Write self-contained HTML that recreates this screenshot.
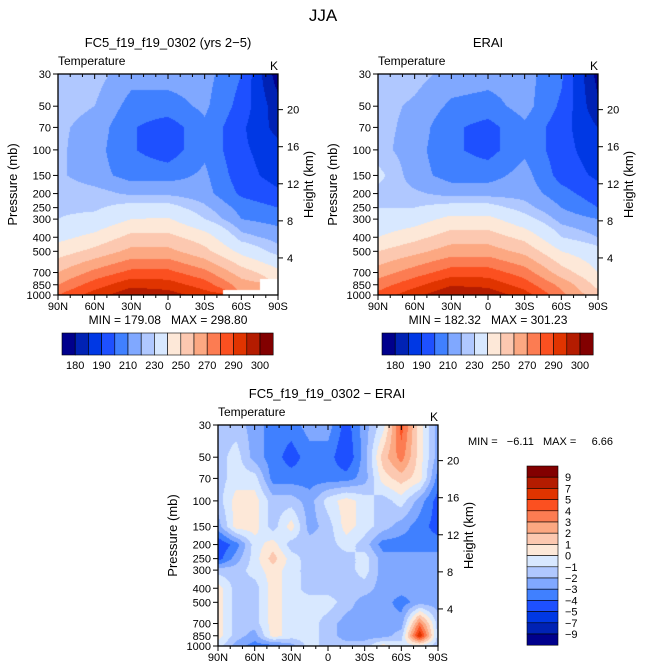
<!DOCTYPE html>
<html><head><meta charset="utf-8">
<style>
body{margin:0;background:#fff;width:647px;height:670px;overflow:hidden;position:relative;font-family:"Liberation Sans",sans-serif;}
canvas{position:absolute;}
svg{position:absolute;left:0;top:0;}
svg text{white-space:pre;}
</style></head>
<body>
<canvas id="c1" width="220" height="221" style="left:58px;top:74px"></canvas>
<canvas id="c2" width="220" height="221" style="left:378px;top:74px"></canvas>
<canvas id="c3" width="220" height="221" style="left:218px;top:425px"></canvas>
<svg id="s" width="647" height="670"></svg>
<script>
const colors=["#00008c","#0022b4","#0038e4","#1e50ff","#4080ff","#80a8ff","#b0c8ff","#d8e8ff","#fde8d8","#fcc8b0","#fca882","#fc7c52","#fb5020","#e03400","#b41c00","#820000"];
const pLevels=[30,50,70,100,150,200,250,300,400,500,700,850,1000];
const lats7=[90,60,30,0,-30,-60,-90];
const lats13=[90,75,60,45,30,15,0,-15,-30,-45,-60,-75,-90];
const tThr=[185,190,195,200,205,210,215,225,235,245,255,265,275,285,295];
const dThr=[-9,-7,-5,-4,-3,-2,-1,0,1,2,3,4,5,7,9];
const tBarLabels=["180","190","210","230","250","270","290","300"];
const dBarLabels=["9","7","5","4","3","2","1","0","\u22121","\u22122","\u22123","\u22124","\u22125","\u22127","\u22129"];
const pTicks=[30,50,70,100,150,200,250,300,400,500,700,850,1000];
const zTicks=[4,8,12,16,20];
const latLabels=["90N","60N","30N","0","30S","60S","90S"];
const model=[
[212,212,207,207,207,200,182],
[212,210,203,203,206,198,187],
[211,208,200.5,197,204,196,188],
[211,207,200.5,197,204,196,192],
[211,207,203,203,206,197,193],
[213,212,209,209,207,199,196],
[214,214,218,218,211,203,200],
[215,217,225,226,215,205,203],
[222,228,238,238,230,212,208],
[230,238,248,248,238,222,212],
[245,258,268,268,258,240,228],
[255,270,282,280,270,250,null],
[265,280,293,290,280,null,null]];
const erai=[
[214,212,208,207,207,201,183],
[212,209,204,203,207,199,186],
[212,208,201,198,204,197,190],
[212,207,201,198,204,197,192],
[217,207,203,203,207,198,194],
[213,211,208,208,208,202,197],
[215,215,218,218,212,205,200],
[217,220,228,228,218,208,205],
[225,232,240,240,232,215,210],
[235,242,250,250,242,225,218],
[250,260,270,270,260,240,225],
[260,272,284,282,270,252,232],
[268,282,294,292,280,258,238]];
const diff=[
[-1.5,-1.5,-2.5,-3.5,-3.5,-2.5,-2.5,-4.5,-2.5,-0.5,4.5,0.5,-2.5],
[-1.5,-0.5,-2.5,-3.5,-4.5,-3.5,-3.5,-5,-2.5,1.5,3.5,0.5,-2.5],
[-1.5,-0.5,-0.5,-3.5,-3.5,-3.5,-3.5,-3.5,-2.5,0.5,1.5,0.5,-3.5],
[-1.5,0.5,0.5,-1.5,-1.5,-2.5,-0.5,0.5,-0.5,-1.5,-0.5,-2.5,-4.5],
[-2.5,0.5,0.5,-1.5,0.5,-2.5,-1.5,0.5,-0.5,-1.5,-2.5,-3.5,-4.5],
[-5,-3.5,-0.5,0.5,-1.5,-1.5,-1.5,-0.5,-1.5,-3.5,-3.5,-3.5,-3.5],
[-4.5,-2.5,-0.5,1.5,-0.5,-1.5,-1.5,-1.5,-0.5,-2.5,-2.5,-2.5,-2.5],
[-1.5,-1.5,-0.5,0.5,-0.5,-1.5,-1.5,-1.5,-0.5,-2.5,-2.5,-2.5,-2.5],
[0.5,-1.5,-1.5,0.5,-0.5,-1.5,-1.5,-1.5,-1.5,-2.5,-2.5,-2.5,-2.5],
[0.5,-1.5,-1.5,0.5,-0.5,-0.5,-0.5,-1.5,-2.5,-2.5,-3.5,-2.5,-2.5],
[0.5,-1.5,-1.5,0.5,-0.5,-0.5,-1.5,-2.5,-2.5,-2.5,-2.5,3.5,-1.5],
[0.5,-1.5,-2.5,0.5,-0.5,-0.5,-1.5,-2.5,-2.5,-2.5,-1.5,6,-1.5],
[-0.5,-2.5,-3.5,-3.5,-2.5,-0.5,-1.5,-1.5,-1.5,0.5,-0.5,-0.5,-1.5]];

const W=220,H=221;
function yOfP(p){return Math.log(p/30)/Math.log(1000/30)*H;}
function xOfLat(l){return (90-l)/180*W;}
function idx(v,thr){let i=0;while(i<thr.length&&v>=thr[i])i++;return i;}
function fill(id,grid,lats,thr){
  const ctx=document.getElementById(id).getContext('2d');
  const ys=pLevels.map(yOfP), xs=lats.map(xOfLat);
  for(let py=0;py<H;py++){
    let r=0;while(r<ys.length-2&&py+0.5>ys[r+1])r++;
    const fy=Math.min(1,Math.max(0,(py+0.5-ys[r])/(ys[r+1]-ys[r])));
    for(let px=0;px<W;px++){
      let c=0;while(c<xs.length-2&&px+0.5>xs[c+1])c++;
      const fx=Math.min(1,Math.max(0,(px+0.5-xs[c])/(xs[c+1]-xs[c])));
      const a=grid[r][c],b=grid[r][c+1],d=grid[r+1][c],e=grid[r+1][c+1];
      const near=grid[fy<0.5?r:r+1][fx<0.5?c:c+1];
      if(near===null)continue;
      const vals=[[a,(1-fx)*(1-fy)],[b,fx*(1-fy)],[d,(1-fx)*fy],[e,fx*fy]];
      let s=0,w=0;vals.forEach(([v,wt])=>{if(v!==null){s+=v*wt;w+=wt;}});
      ctx.fillStyle=colors[idx(s/w,thr)];
      ctx.fillRect(px,py,1,1);
    }
  }
}
fill('c1',model,lats7,tThr);
fill('c2',erai,lats7,tThr);
fill('c3',diff,lats13,dThr);

const svg=document.getElementById('s');
const NS="http://www.w3.org/2000/svg";
function mk(tag,attrs,name,parent){const e=document.createElementNS(NS,tag);for(const k in attrs)e.setAttribute(k,attrs[k]);


(parent||svg).appendChild(e);return e;}
function txt(x,y,s,size,anchor,name,rot){const t=mk('text',{x:x,y:y,'font-size':size,'text-anchor':anchor||'start',fill:'#000','font-family':'Liberation Sans, sans-serif'},name);if(rot)t.setAttribute('transform','rotate(-90 '+x+' '+y+')');t.textContent=s;return t;}

txt(323,21,"JJA",17,'middle','main-title');
function panel(x0,y0,title,tx,name,minmax){
  txt(tx,y0-27,title,13,'middle',name+'-title');
  txt(x0,y0-9,"Temperature",12,'start',name+'-variable-label');
  txt(x0+W,y0-4,"K",12,'end',name+'-units-label');
  mk('rect',{x:x0,y:y0,width:W,height:H,fill:'none',stroke:'#000','stroke-width':1.3},name+'-frame');
  pTicks.forEach(p=>{const y=y0+yOfP(p);
    mk('line',{x1:x0-5,x2:x0,y1:y,y2:y,stroke:'#000'},name+'-pressure-tick');
    txt(x0-7,y+4,String(p),11,'end',name+'-pressure-label');});
  zTicks.forEach(z=>{const p=1000*Math.exp(-z/6.8);const y=y0+yOfP(p);
    mk('line',{x1:x0+W,x2:x0+W+5,y1:y,y2:y,stroke:'#000'},name+'-height-tick');
    txt(x0+W+9,y+4,String(z),11,'start',name+'-height-label');});
  for(let l=90;l>=-90;l-=10){const x=x0+xOfLat(l);const major=l%30===0;
    mk('line',{x1:x,x2:x,y1:y0,y2:y0+(major?5:3),stroke:'#000'},name+'-top-tick');
    mk('line',{x1:x,x2:x,y1:y0+H,y2:y0+H+(major?5:3),stroke:'#000'},name+'-bottom-tick');}
  lats7.forEach((l,i)=>txt(x0+xOfLat(l),y0+H+15,latLabels[i],11,'middle',name+'-lat-label'));
  txt(x0-41,y0+H/2,"Pressure (mb)",13,'middle',name+'-y-axis-title',true);
  txt(x0+W+35,y0+H/2,"Height (km)",13,'middle',name+'-right-axis-title',true);
  if(minmax)txt(x0+W/2,y0+H+29,minmax,12,'middle',name+'-min-max');
}
panel(58,74,"FC5_f19_f19_0302 (yrs 2\u22125)",168,'model',"MIN = 179.08   MAX = 298.80");
panel(378,74,"ERAI",488,'erai',"MIN = 182.32   MAX = 301.23");
panel(218,425,"FC5_f19_f19_0302 \u2212 ERAI",327,'diff',null);
txt(468,445,"MIN =   \u22126.11   MAX =     6.66",11,'start','diff-min-max');

function hbar(x0,name){const cw=13.2;
  colors.forEach((c,i)=>mk('rect',{x:x0+i*cw,y:333,width:cw,height:22,fill:c,stroke:'#000','stroke-width':0.6},name+'-colorbar-cell'));
  tBarLabels.forEach((s,i)=>txt(x0+(2*i+1)*cw,369,s,11,'middle',name+'-colorbar-label'));}
hbar(62,'model');hbar(382,'erai');
const ch=11.2;
colors.slice().reverse().forEach((c,i)=>mk('rect',{x:527,y:466+i*ch,width:31,height:ch,fill:c,stroke:'#000','stroke-width':0.6},'diff-colorbar-cell'));
dBarLabels.forEach((s,i)=>txt(565,466+(i+1)*ch+4,s,11,'start','diff-colorbar-label'));
</script>
</body></html>
